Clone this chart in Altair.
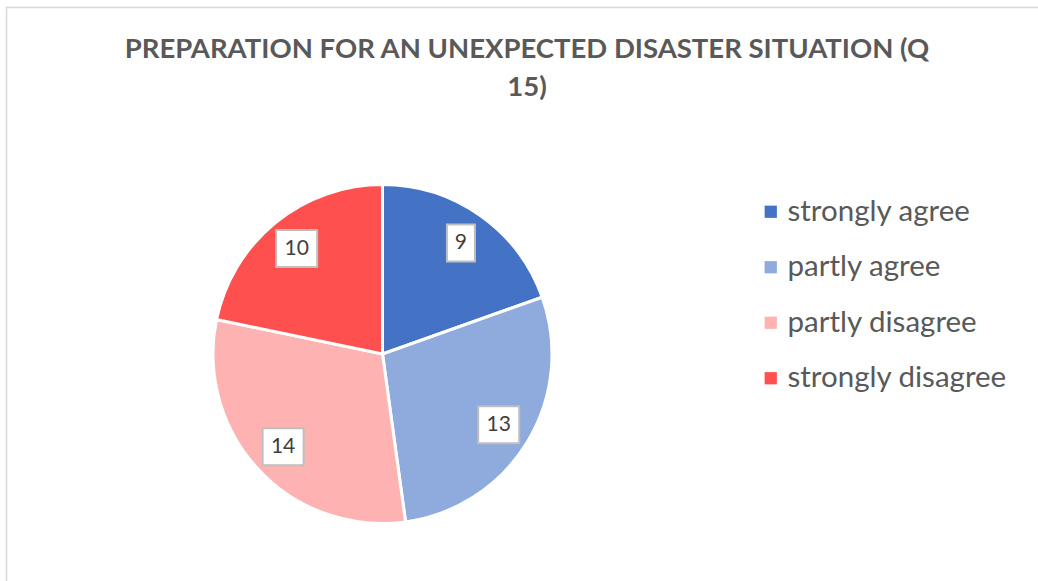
import altair as alt
import pandas as pd

categories = ["strongly agree", "partly agree", "partly disagree", "strongly disagree"]
values = [9, 13, 14, 10]
colors = ["#4472C4", "#8FAADC", "#FFB2B2", "#FF5050"]
title_lines = ["PREPARATION FOR AN UNEXPECTED DISASTER SITUATION (Q", "15)"]

df = pd.DataFrame({
    "category": categories,
    "value": values,
    "order": list(range(len(categories))),
    "label": [str(v) for v in values],
})

CX, CY = 382.5, 354
R = 169.5
LR = 136

base = alt.Chart(df)

pie = base.mark_arc(outerRadius=R, stroke="white", strokeWidth=3).encode(
    theta=alt.Theta("value:Q", stack=True),
    order=alt.Order("order:Q"),
    color=alt.Color(
        "category:N",
        scale=alt.Scale(domain=categories, range=colors),
        sort=categories,
        legend=alt.Legend(
            title=None,
            orient="none",
            legendX=756,
            legendY=197,
            symbolType="square",
            symbolSize=150,
            symbolStrokeWidth=0,
            labelFontSize=29.5,
            labelFont="Lato",
            labelColor="#595959",
            labelOffset=2,
            rowPadding=24.5,
            padding=0,
            labelLimit=400,
        ),
    ),
    x=alt.value(CX),
    y=alt.value(CY),
)

pos = base.transform_window(
    cum="sum(value)", sort=[alt.SortField("order")], frame=[None, 0]
).transform_joinaggregate(
    total="sum(value)"
).transform_calculate(
    mid="(datum.cum - datum.value/2) / datum.total * 2 * PI",
).transform_calculate(
    px=f"{CX} + {LR} * sin(datum.mid)",
    py=f"{CY} - {LR} * cos(datum.mid)",
    w="15 + 13 * length(datum.label)",
).transform_calculate(
    bx1="datum.px - datum.w/2",
    bx2="datum.px + datum.w/2",
    by1="datum.py - 18.5",
    by2="datum.py + 18.5",
)

boxes = pos.mark_rect(fill="white", stroke="#BFBFBF", strokeWidth=2).encode(
    x=alt.X("bx1:Q", scale=None, axis=None),
    x2="bx2:Q",
    y=alt.Y("by1:Q", scale=None, axis=None),
    y2="by2:Q",
)

texts = pos.mark_text(fontSize=21, font="Lato", color="#404040", baseline="middle", align="center").encode(
    x=alt.X("px:Q", scale=None, axis=None),
    y=alt.Y("py:Q", scale=None, axis=None),
    text="label:N",
)

border = alt.Chart(pd.DataFrame({"a": [0]})).mark_rect(
    fill=None, stroke="#D9D9D9", strokeWidth=1.5
).encode(
    x=alt.value(6.5), x2=alt.value(1200), y=alt.value(7.5), y2=alt.value(800)
)

title = alt.Chart(pd.DataFrame({"a": [0]})).mark_text(
    text=title_lines,
    fontSize=27.5,
    font="Lato",
    fontWeight="bold",
    color="#595959",
    lineHeight=38,
    align="center",
    baseline="middle",
).encode(x=alt.value(527), y=alt.value(50))

chart = alt.layer(border, title, pie, boxes, texts).properties(
    width=1038,
    height=581,
    autosize=alt.AutoSizeParams(type="none"),
    padding=0,
).configure(background="white").configure_view(stroke=None)

chart.save("out.html", embed_options={"renderer": "svg", "actions": False})
